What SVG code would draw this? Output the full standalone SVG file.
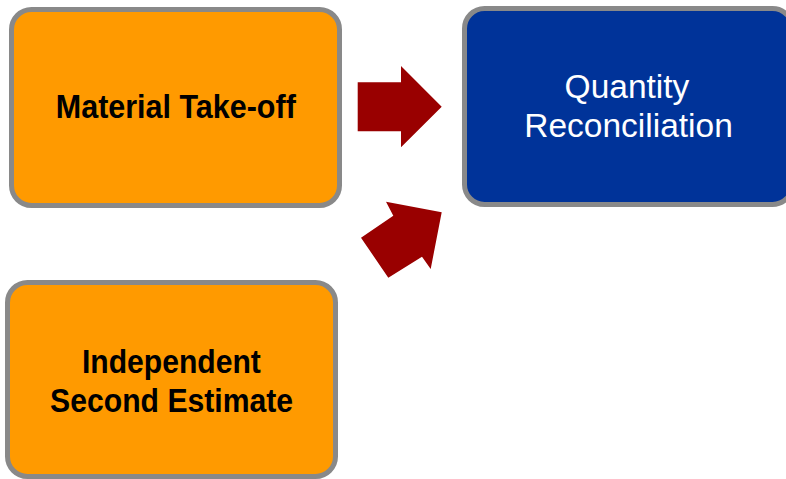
<svg xmlns="http://www.w3.org/2000/svg" width="786" height="479" viewBox="0 0 786 479">
<style>
.box{stroke:#898989;stroke-width:5}
.orange{fill:#FF9A00}
.blue{fill:#003399}
.dark{font-family:"Liberation Sans",Arial,sans-serif;font-size:34px;font-weight:bold;fill:#000;text-anchor:middle}
.light{font-family:"Liberation Sans",Arial,sans-serif;font-size:33.5px;fill:#fff;text-anchor:middle}
.arrow{fill:#990000}
</style>
<rect width="786" height="479" fill="#fff"/>
<g id="node-material">
<rect class="box orange" x="11.5" y="9.5" width="328" height="196" rx="20"/>
<text class="dark" x="175.8" y="117.7" textLength="240" lengthAdjust="spacingAndGlyphs">Material Take-off</text>
</g>
<g id="node-independent">
<rect class="box orange" x="7.5" y="282.5" width="328" height="194" rx="20"/>
<text class="dark" x="171.4" y="373.3" textLength="179" lengthAdjust="spacingAndGlyphs">Independent</text>
<text class="dark" x="171.6" y="411.7" textLength="243" lengthAdjust="spacingAndGlyphs">Second Estimate</text>
</g>
<g id="node-quantity">
<rect class="box blue" x="464.5" y="8.5" width="328" height="196" rx="20"/>
<text class="light" x="627" y="98.3">Quantity</text>
<text class="light" x="628.5" y="136.7">Reconciliation</text>
</g>
<g id="connectors">
<polygon class="arrow" points="357.7,82.3 401,82.3 401,66 441.7,106.7 401,147.3 401,131.3 357.7,131.3"/>
<polygon class="arrow" points="441.7,212.3 430.7,269 422,256.7 388.3,277.7 361,237.7 393.3,215.7 386,201.7"/>
</g>
</svg>
